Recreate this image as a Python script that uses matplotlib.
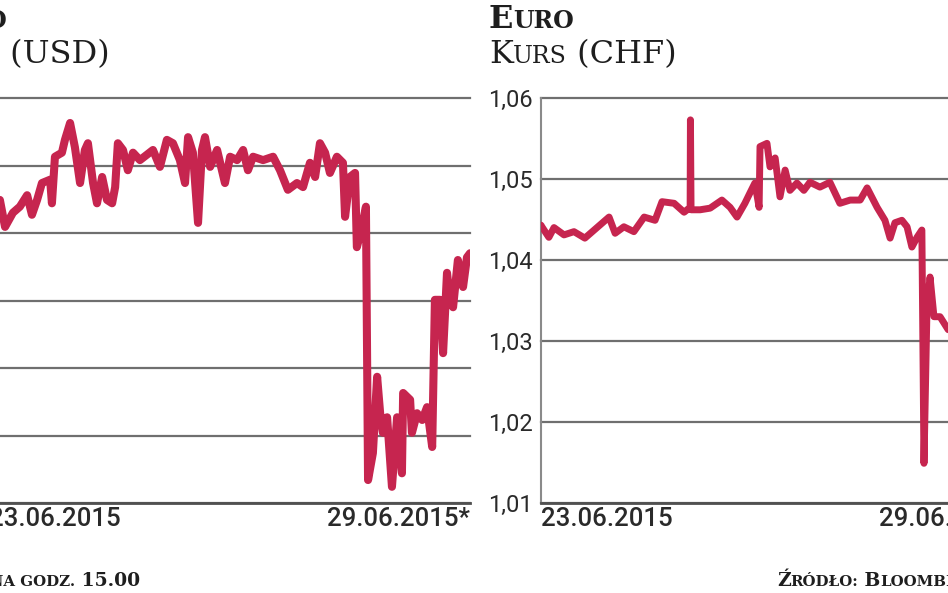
import matplotlib
matplotlib.use('Agg')
import matplotlib.pyplot as plt
from matplotlib.transforms import IdentityTransform
from matplotlib.ticker import FuncFormatter

# ---------------- data ----------------
date_labels = ['23.06.2015', '29.06.2015*']
period_hours = 159.0

usd_hours = [0, 3.6, 5.3, 7.9, 10.2, 12.6, 14.2, 15.9, 17.5, 20.2, 20.8, 21.8, 24.1, 25.1,
             26.8, 28.4, 30.1, 31.7, 32.7, 34.4, 35.7, 37.4, 39.0, 40.7, 41.7, 42.6, 44.3,
             45.9, 47.6, 49.9, 52.2, 54.2, 56.5, 58.8, 60.8, 63.1, 64.8, 65.8, 67.4, 69.1,
             70.4, 71.4, 73.1, 75.4, 78.0, 79.7, 82.0, 84.0, 85.6, 87.3, 90.6, 93.9, 96.2,
             98.8, 101.8, 103.8, 106.1, 107.8, 109.4, 111.1, 112.7, 115.0, 117.0, 117.7,
             119.3, 121.0, 121.6, 123.3, 124.6, 125.3, 126.9, 128.3, 129.3, 130.2, 131.6,
             133.2, 134.9, 136.5, 136.9, 139.2, 139.8, 141.5, 143.2, 144.8, 146.5, 147.4,
             149.1, 150.1, 151.4, 152.4, 153.4, 155.0, 156.7, 158.0, 159.0]
usd_rate = [1.1241, 1.1249, 1.1209, 1.1230, 1.1239, 1.1256, 1.1227, 1.1249, 1.1274, 1.1279,
            1.1244, 1.1313, 1.1319, 1.1338, 1.1363, 1.1327, 1.1274, 1.1323, 1.1333, 1.1274,
            1.1244, 1.1283, 1.1249, 1.1244, 1.1268, 1.1333, 1.1323, 1.1293, 1.1319, 1.1308,
            1.1316, 1.1323, 1.1298, 1.1338, 1.1333, 1.1308, 1.1274, 1.1342, 1.1319, 1.1215,
            1.1323, 1.1342, 1.1298, 1.1323, 1.1274, 1.1313, 1.1308, 1.1323, 1.1293, 1.1313,
            1.1308, 1.1313, 1.1293, 1.1264, 1.1274, 1.1268, 1.1304, 1.1283, 1.1333, 1.1319,
            1.1289, 1.1313, 1.1304, 1.1224, 1.1283, 1.1289, 1.1179, 1.1209, 1.1239, 1.0834,
            1.0874, 1.0987, 1.0933, 1.0904, 1.0927, 1.0824, 1.0927, 1.0844, 1.0963, 1.0953,
            1.0904, 1.0933, 1.0923, 1.0942, 1.0883, 1.1101, 1.1101, 1.1022, 1.1141, 1.1101,
            1.1090, 1.1160, 1.1120, 1.1164, 1.1170]
usd_ticks = [1.08, 1.09, 1.10, 1.11, 1.12, 1.13, 1.14]

chf_hours = [0, 0.3, 2.6, 4.3, 7.6, 10.9, 14.5, 18.5, 22.5, 24.5, 27.4, 30.7, 34.1, 37.7,
             40.0, 44.0, 47.3, 49.3, 49.4, 49.6, 52.6, 55.9, 59.8, 62.5, 64.8, 67.4, 69.1,
             70.7, 72.1, 72.4, 74.7, 75.7, 77.4, 79.0, 80.7, 82.3, 84.6, 86.9, 88.9, 92.2,
             95.5, 98.8, 102.2, 105.5, 107.8, 111.1, 113.7, 115.4, 117.0, 119.3, 121.0,
             122.6, 124.3, 125.9, 126.6, 127.6, 128.6, 129.9, 131.9, 134.6, 138.5, 143.5,
             148.4, 153.4, 159.0]
chf_rate = [1.0443, 1.0441, 1.0428, 1.0440, 1.0431, 1.0435, 1.0427, 1.0440, 1.0453, 1.0433,
            1.0441, 1.0435, 1.0453, 1.0449, 1.0472, 1.0470, 1.0459, 1.0465, 1.0573, 1.0462,
            1.0462, 1.0464, 1.0474, 1.0465, 1.0453, 1.0470, 1.0483, 1.0495, 1.0465, 1.0540,
            1.0544, 1.0515, 1.0526, 1.0478, 1.0511, 1.0486, 1.0495, 1.0486, 1.0496, 1.0490,
            1.0496, 1.0470, 1.0474, 1.0474, 1.0489, 1.0465, 1.0449, 1.0427, 1.0446, 1.0449,
            1.0441, 1.0416, 1.0428, 1.0437, 1.0149, 1.0342, 1.0379, 1.0330, 1.0330, 1.0314,
            1.0320, 1.0332, 1.0328, 1.0344, 1.0351]
chf_ticks = [1.01, 1.02, 1.03, 1.04, 1.05, 1.06]

# ---------------- style ----------------
W, H = 948, 593
LINE = '#C6254F'
GRID = '#6f6f6f'
TXT = '#1e1e1e'
SERIF = 'DejaVu Serif'
SANS = ['Roboto', 'DejaVu Sans']

fig = plt.figure(figsize=(W / 100, H / 100), dpi=100)
fig.patch.set_facecolor('white')


def rect(x0, y0, w, h):
    return [x0 / W, 1 - (y0 + h) / H, w / W, h / H]


def style(ax, ticks):
    ax.set_xlim(0, period_hours)
    ax.set_ylim(ticks[0], ticks[-1])
    ax.set_yticks(ticks)
    ax.yaxis.set_major_formatter(FuncFormatter(lambda v, p: f'{v:.2f}'.replace('.', ',')))
    ax.set_xticks([0, period_hours])
    ax.set_xticklabels(date_labels)
    labs = ax.get_xticklabels()
    labs[0].set_ha('left')
    labs[1].set_ha('right')
    for sp in ['top', 'right']:
        ax.spines[sp].set_visible(False)
    ax.spines['left'].set_color('#8a8a8a')
    ax.spines['left'].set_linewidth(1.5)
    ax.spines['bottom'].set_color('#505050')
    ax.spines['bottom'].set_linewidth(2.0)
    ax.tick_params(axis='both', length=0, labelcolor='#2a2a2a')
    ax.tick_params(axis='y', pad=6, labelsize=17)
    ax.tick_params(axis='x', pad=3, labelsize=18.5)
    for lab in ax.get_yticklabels():
        lab.set_family(SANS)
    for lab in ax.get_xticklabels():
        lab.set_family(SANS)
        lab.set_weight(500)
    ax.yaxis.grid(True, color=GRID, lw=1.6)
    ax.set_axisbelow(True)
    for gl in ax.get_ygridlines():
        gl.set_clip_on(False)


ax1 = fig.add_axes(rect(-11, 98, 481, 405))
ax1.plot(usd_hours, usd_rate, color=LINE, lw=5.8, solid_joinstyle='round',
         solid_capstyle='round', zorder=3)
style(ax1, usd_ticks)

ax2 = fig.add_axes(rect(541, 98, 481, 405))
ax2.plot(chf_hours, chf_rate, color=LINE, lw=5.0, solid_joinstyle='round',
         solid_capstyle='round', zorder=3)
style(ax2, chf_ticks)

# ---------------- small-caps text helper ----------------
renderer = fig.canvas.get_renderer()


def smallcaps(x, y_top, parts, ha='left', **kw):
    y = H - y_top
    texts = []
    cur = x
    for s, size in parts:
        t = fig.text(cur, y, s, transform=IdentityTransform(), fontsize=size,
                     va='baseline', ha='left', family=SERIF, color=TXT, **kw)
        bb = t.get_window_extent(renderer)
        cur = bb.x1
        texts.append(t)
    if ha == 'right':
        shift = x - cur
        for t in texts:
            px_, py_ = t.get_position()
            t.set_position((px_ + shift, py_))


TB, TS = 23, 17
# left panel titles
smallcaps(-78, 28, [('E', TB), ('URO', TS)], weight='bold')
smallcaps(-78, 63, [('K', TB), ('URS', TS), (' (USD)', TB)])
# right panel titles
smallcaps(489, 28, [('E', TB), ('URO', TS)], weight='bold')
smallcaps(489, 63, [('K', TB), ('URS', TS), (' (CHF)', TB)])

FB, FS = 13.5, 10.8
smallcaps(140, 586, [('*K', FB), ('URS NA GODZ.', FS), (' 15.00', FB)], ha='right', weight='bold')
smallcaps(777, 586, [('Ź', FB), ('RÓDŁO:', FS), (' B', FB), ('LOOMBERG', FS)], weight='bold')

fig.savefig('out.png', dpi=100, facecolor='white')
